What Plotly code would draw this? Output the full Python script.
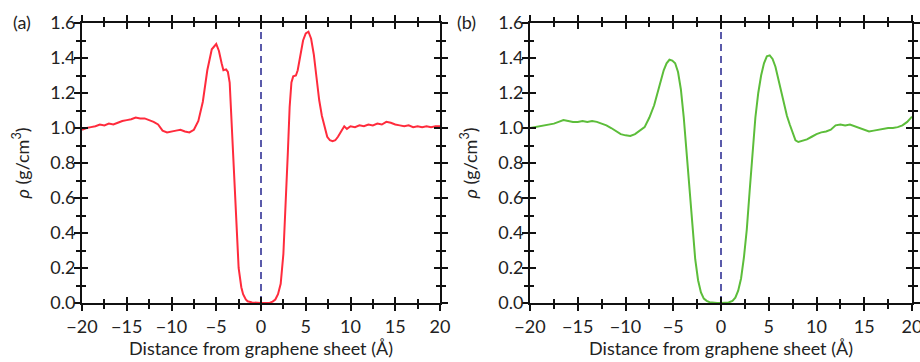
import plotly.graph_objects as go

# ---- data ----
x_a = [-20, -19.5, -19, -18.5, -18, -17.5, -17, -16.5, -16, -15.5, -15, -14.5, -14, -13.5, -13, -12.5, -12,
       -11.5, -11, -10.5, -10, -9.5, -9, -8.5, -8, -7.5, -7, -6.5, -6, -5.5, -5, -4.7, -4.4, -4.2, -3.9,
       -3.7, -3.5, -3.3, -3.1, -2.9, -2.7, -2.5, -2.2, -2, -1.7, -1.5, -1, -0.5, 0, 0.5, 1, 1.3, 1.6,
       1.9, 2.2, 2.5, 2.8, 3.0, 3.2, 3.4, 3.6, 3.9, 4.1, 4.4, 4.7, 5.0, 5.3, 5.6, 5.9, 6.2, 6.5, 6.8,
       7.1, 7.4, 7.7, 8.0, 8.3, 8.6, 9.0, 9.3, 9.6, 10, 10.5, 11, 11.5, 12, 12.5, 13, 13.5, 14, 14.5,
       15, 15.5, 16, 16.5, 17, 17.5, 18, 18.5, 19, 19.5, 20]
rho_a = [0.99, 1.0, 1.005, 1.01, 1.02, 1.015, 1.025, 1.02, 1.03, 1.04, 1.045, 1.05, 1.06, 1.055, 1.055, 1.045, 1.035,
         1.02, 0.985, 0.975, 0.982, 0.985, 0.99, 0.98, 0.975, 0.99, 1.04, 1.15, 1.33, 1.45, 1.48, 1.44, 1.37, 1.33, 1.335,
         1.32, 1.26, 1.05, 0.82, 0.6, 0.38, 0.2, 0.09, 0.05, 0.02, 0.01, 0.003, 0.0, 0.0, 0.0, 0.002, 0.008, 0.02,
         0.05, 0.11, 0.28, 0.6, 0.86, 1.12, 1.26, 1.295, 1.3, 1.33, 1.41, 1.5, 1.54, 1.55, 1.51, 1.42, 1.29, 1.16, 1.07,
         1.0, 0.95, 0.93, 0.925, 0.93, 0.95, 0.985, 1.01, 0.995, 1.01, 1.005, 1.015, 1.01, 1.02, 1.015, 1.025, 1.02, 1.035, 1.03,
         1.02, 1.015, 1.01, 1.015, 1.005, 1.01, 1.005, 1.01, 1.005, 1.01, 1.01]

x_b = [-20, -19.5, -19, -18.5, -18, -17.5, -17, -16.5, -16, -15.5, -15, -14.5, -14, -13.5, -13, -12.5, -12,
       -11.5, -11, -10.5, -10, -9.5, -9, -8.5, -8, -7.5, -7, -6.5, -6, -5.7, -5.4, -5.1, -4.8, -4.5, -4.2,
       -3.9, -3.6, -3.3, -3.0, -2.7, -2.4, -2.1, -1.8, -1.5, -1.2, -0.8, -0.4, 0, 0.4, 0.8, 1.2, 1.5, 1.8,
       2.1, 2.4, 2.7, 3.0, 3.3, 3.6, 3.9, 4.2, 4.5, 4.8, 5.1, 5.4, 5.7, 6.0, 6.3, 6.6, 6.9, 7.2, 7.5,
       7.8, 8.1, 8.5, 9, 9.5, 10, 10.5, 11, 11.5, 12, 12.5, 13, 13.5, 14, 14.5, 15, 15.5, 16, 16.5,
       17, 17.5, 18, 18.5, 19, 19.5, 20]
rho_b = [1.0, 1.005, 1.01, 1.015, 1.02, 1.025, 1.035, 1.045, 1.04, 1.035, 1.035, 1.04, 1.035, 1.04, 1.035, 1.025, 1.015,
         1.0, 0.98, 0.965, 0.958, 0.955, 0.965, 0.985, 1.005, 1.06, 1.13, 1.23, 1.33, 1.37, 1.39, 1.385, 1.37, 1.32, 1.22,
         1.06, 0.85, 0.62, 0.42, 0.25, 0.13, 0.06, 0.025, 0.012, 0.005, 0.001, 0.0, 0.0, 0.0, 0.003, 0.012, 0.03, 0.07,
         0.14, 0.26, 0.42, 0.64, 0.87, 1.06, 1.2, 1.3, 1.37, 1.41, 1.415, 1.395, 1.35, 1.28, 1.2, 1.13, 1.07, 1.02, 0.97,
         0.93, 0.92, 0.925, 0.935, 0.95, 0.965, 0.975, 0.98, 0.99, 1.015, 1.02, 1.015, 1.02, 1.01, 1.0, 0.99, 0.98, 0.985, 0.99,
         0.995, 1.0, 1.0, 1.005, 1.015, 1.035, 1.065]

x_ticks = [-20, -15, -10, -5, 0, 5, 10, 15, 20]
x_ticklabels = ["\u221220", "\u221215", "\u221210", "\u22125", "0", "5", "10", "15", "20"]
y_ticks = [0.0, 0.2, 0.4, 0.6, 0.8, 1.0, 1.2, 1.4, 1.6]
y_ticklabels = ["0.0", "0.2", "0.4", "0.6", "0.8", "1.0", "1.2", "1.4", "1.6"]
sheet_x = [0, 0]
sheet_y = [0, 1.6]

FONT = "Lato, 'Noto Sans', sans-serif"
TXT = "#222222"
FS = 18

fig = go.Figure()
fig.add_trace(go.Scatter(x=sheet_x, y=sheet_y, mode="lines", xaxis="x", yaxis="y",
                         line=dict(color="#5a5aaa", width=2, dash="7px,5px"), showlegend=False))
fig.add_trace(go.Scatter(x=x_a, y=rho_a, mode="lines", xaxis="x", yaxis="y",
                         line=dict(color="#ff2b3c", width=2), showlegend=False))
fig.add_trace(go.Scatter(x=sheet_x, y=sheet_y, mode="lines", xaxis="x2", yaxis="y2",
                         line=dict(color="#5a5aaa", width=2, dash="7px,5px"), showlegend=False))
fig.add_trace(go.Scatter(x=x_b, y=rho_b, mode="lines", xaxis="x2", yaxis="y2",
                         line=dict(color="#5cbd3a", width=2), showlegend=False))

L, R, T, B = 82, 8, 23, 59
W, H = 920, 362
pw = W - L - R
ph = H - T - B
dom_a = [0, (440 - L) / pw]
dom_b = [(530 - L) / pw, 1.0]


def xax(domain, anchor, ticks, labels, overlay=None):
    d = dict(domain=domain, anchor=anchor, range=[-20, 20], tickmode="array", automargin=False,
             tickvals=x_ticks, ticktext=x_ticklabels, ticks=ticks, ticklen=6, tickwidth=2,
             tickcolor="#111", showline=True, linecolor="#111", linewidth=2, mirror="ticks",
             showgrid=False, zeroline=False, ticklabeloverflow="allow",
             minor=dict(ticks=ticks, dtick=2.5, tick0=0, ticklen=4, tickwidth=2, tickcolor="#111", showgrid=False),
             tickfont=dict(family=FONT, size=FS, color=TXT), showticklabels=labels)
    if overlay:
        d["overlaying"] = overlay
    else:
        d["title"] = dict(text="Distance from graphene sheet (\u00c5)", standoff=7,
                          font=dict(family=FONT, size=FS, color=TXT))
    return d


def yax(anchor, ticks, labels, overlay=None):
    d = dict(domain=[0, 1], anchor=anchor, range=[0, 1.6], tickmode="array", automargin=False,
             tickvals=y_ticks, ticktext=y_ticklabels, ticks=ticks, ticklen=6, tickwidth=2,
             tickcolor="#111", showline=True, linecolor="#111", linewidth=2, mirror="ticks",
             showgrid=False, zeroline=False, ticklabelstandoff=-5,
             minor=dict(ticks=ticks, dtick=0.1, tick0=0, ticklen=4, tickwidth=2, tickcolor="#111", showgrid=False),
             tickfont=dict(family=FONT, size=FS, color=TXT), showticklabels=labels)
    if overlay:
        d["overlaying"] = overlay
    else:
        d["title"] = dict(text="<i>\u03c1</i> (g/cm<sup>3</sup>)", standoff=16,
                          font=dict(family=FONT, size=FS, color=TXT))
    return d


def ann_pos(px, py):
    return (px - L) / pw, 1 - (py - T) / ph


ax_, ay_ = ann_pos(11, 22)
bx_, by_ = ann_pos(455, 22)

fig.update_layout(
    width=W, height=H, margin=dict(l=L, r=R, t=T, b=B, autoexpand=False),
    paper_bgcolor="white", plot_bgcolor="white",
    xaxis=xax(dom_a, "y", "outside", True),
    yaxis=yax("x", "outside", True),
    xaxis2=xax(dom_b, "y2", "outside", True),
    yaxis2=yax("x2", "outside", True),
    xaxis3=xax(dom_a, "y3", "inside", False, overlay="x"),
    yaxis3=yax("x3", "inside", False, overlay="y"),
    xaxis4=xax(dom_b, "y4", "inside", False, overlay="x2"),
    yaxis4=yax("x4", "inside", False, overlay="y2"),
    annotations=[
        dict(text="(a)", x=ax_, y=ay_, xref="paper", yref="paper", xanchor="left", yanchor="middle",
             showarrow=False, font=dict(family=FONT, size=FS, color=TXT)),
        dict(text="(b)", x=bx_, y=by_, xref="paper", yref="paper", xanchor="left", yanchor="middle",
             showarrow=False, font=dict(family=FONT, size=FS, color=TXT)),
    ],
)

# invisible traces so overlay axes get drawn
fig.add_trace(go.Scatter(x=[0], y=[0], xaxis="x3", yaxis="y3", mode="markers",
                         marker=dict(opacity=0), hoverinfo="skip", showlegend=False))
fig.add_trace(go.Scatter(x=[0], y=[0], xaxis="x4", yaxis="y4", mode="markers",
                         marker=dict(opacity=0), hoverinfo="skip", showlegend=False))

fig.write_html("out.html", config={"displayModeBar": False},
               post_script="document.body.style.margin='0';document.body.style.overflow='hidden';")
